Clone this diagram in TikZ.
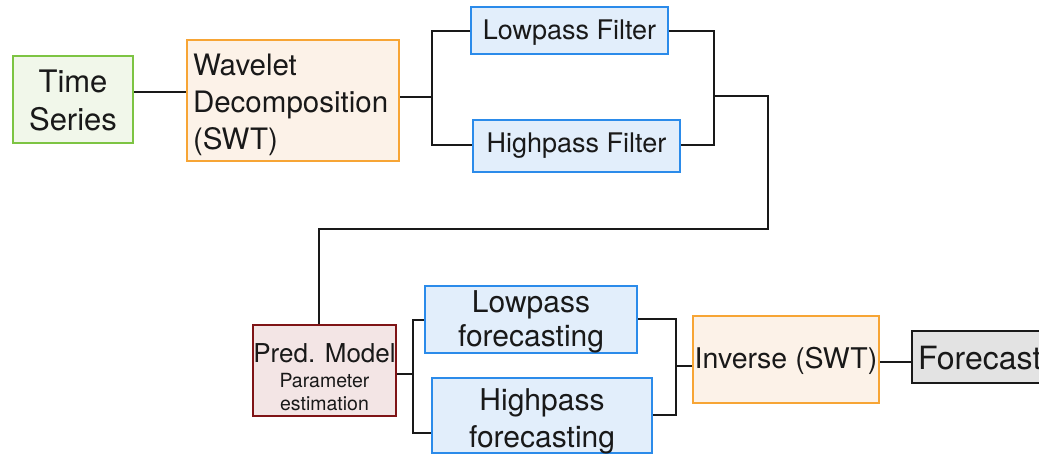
\documentclass[tikz,border=0pt]{standalone}
\usepackage{fontspec}
\setmainfont{TeX Gyre Heros}
\definecolor{tsline}{HTML}{7DC443}
\definecolor{tsfill}{HTML}{F1F7EA}
\definecolor{orline}{HTML}{F7A535}
\definecolor{orfill}{HTML}{FCF2E8}
\definecolor{blline}{HTML}{2B8BEA}
\definecolor{blfill}{HTML}{E2EEFB}
\definecolor{rdline}{HTML}{7F1416}
\definecolor{rdfill}{HTML}{F3E5E5}
\definecolor{gyline}{HTML}{1A1A1A}
\definecolor{gyfill}{HTML}{E3E3E3}
\newcommand{\fs}[2]{\fontsize{#1}{#2}\selectfont}
\tikzset{
  box/.style={draw, line width=2pt, inner sep=0pt},
  lab/.style={inner sep=0pt, align=center, text=black!90},
  link/.style={line width=1.8pt, black!90},
}
\begin{document}
\begin{tikzpicture}[x=1pt,y=-1pt]
\useasboundingbox (0,0) rectangle (1039,455);
\clip (0,0) rectangle (1039,455);

% first row: decomposition
\node[box, draw=tsline, fill=tsfill, minimum width=120, minimum height=87,
      label={[lab, font=\fs{31}{38}, yshift=-1pt]center:{Time\\Series}}] (ts) at (73,99.5) {};
\node[box, draw=orline, fill=orfill, minimum width=212, minimum height=121,
      label={[lab, align=left, text width=200, font=\fs{29.5}{37}, yshift=-4pt]center:{Wavelet\\Decomposition\\(SWT)}}]
      (wd) at (293,100.5) {};
\node[box, draw=blline, fill=blfill, minimum width=197, minimum height=47,
      label={[lab, font=\fs{27}{32}, yshift=-2.5pt]center:{Lowpass Filter}}] (lf) at (569.5,30.5) {};
\node[box, draw=blline, fill=blfill, minimum width=207, minimum height=52,
      label={[lab, font=\fs{27}{32}]center:{Highpass Filter}}] (hf) at (576.5,146) {};

% second row: forecasting and reconstruction
\node[box, draw=rdline, fill=rdfill, minimum width=143, minimum height=91,
      label={[lab, font=\fs{26}{30}, yshift=-7pt]center:{Pred. Model\\[-5pt]{\fs{19.5}{23}Parameter}\\[-7pt]{\fs{19.5}{23}estimation}}}]
      (pm) at (324.5,370.5) {};
\node[box, draw=blline, fill=blfill, minimum width=212, minimum height=67,
      label={[lab, font=\fs{30}{34}, yshift=-2pt]center:{Lowpass\\forecasting}}] (lfc) at (531,319.5) {};
\node[box, draw=blline, fill=blfill, minimum width=220, minimum height=75,
      label={[lab, font=\fs{30}{37}, yshift=-6pt]center:{Highpass\\forecasting}}] (hfc) at (542,415.5) {};
\node[box, draw=orline, fill=orfill, minimum width=186, minimum height=87,
      label={[lab, font=\fs{28.5}{34}, yshift=-1pt]center:{Inverse (SWT)}}] (inv) at (786,359.5) {};
\node[box, draw=gyline, fill=gyfill, minimum width=160, minimum height=52,
      label={[lab, align=left, text width=148, font=\fs{32}{36}, yshift=-1pt]center:{Forecast}}] (fc) at (992,357) {};

% junction points
\coordinate (j1) at (432,97);
\coordinate (j2) at (714,96);
\coordinate (j3) at (768,229);
\coordinate (j4) at (413,374);
\coordinate (j5) at (676,366);

% connectors
\draw[link] (ts.east |- 0,92) -- (wd.west |- 0,92);
\draw[link] (wd.east |- j1) -- (j1);
\draw[link] (lf.west |- 0,31) -| (j1) |- (hf.west |- 0,145);
\draw[link] (lf.east |- 0,31) -| (j2) |- (hf.east |- 0,145);
\draw[link] (j2) -| (j3) -| (pm.north -| 319,0);
\draw[link] (pm.east |- j4) -- (j4);
\draw[link] (lfc.west |- 0,320) -| (j4) |- (hfc.west |- 0,433);
\draw[link] (lfc.east |- 0,319) -| (j5) |- (hfc.east |- 0,415);
\draw[link] (j5) -- (inv.west |- j5);
\draw[link] (inv.east |- 0,362) -- (fc.west |- 0,362);
\end{tikzpicture}
\end{document}
